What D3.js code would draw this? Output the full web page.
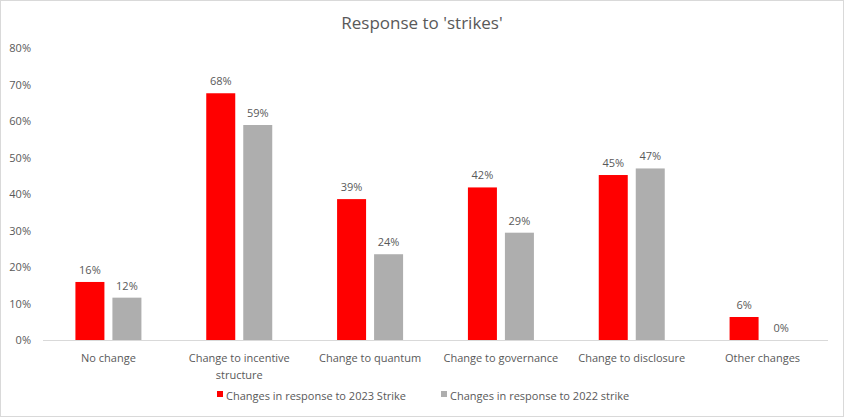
<!DOCTYPE html>
<html><head><meta charset="utf-8">
<script src="https://cdn.jsdelivr.net/npm/d3@7"></script>
<style>body{margin:0;background:#fff;} svg{display:block;}</style>
</head><body>
<script>
const categories = ["No change", "Change to incentive structure", "Change to quantum", "Change to governance", "Change to disclosure", "Other changes"];
const series2023 = [15.9, 67.6, 38.6, 41.8, 45.2, 6.3];
const series2022 = [11.6, 58.9, 23.5, 29.4, 47.0, 0];
const seriesNames = ["Changes in response to 2023 Strike", "Changes in response to 2022 strike"];
const colors = ["#ff0000", "#aeaeae"];
const yTicks = [0, 10, 20, 30, 40, 50, 60, 70, 80];

const W = 844, H = 417;
const font = "'Open Sans', 'Liberation Sans', sans-serif";
const svg = d3.select("body").append("svg").attr("width", W).attr("height", H);
svg.append("rect").attr("x", 0.5).attr("y", 0.5).attr("width", W - 1).attr("height", H - 1)
  .attr("fill", "#fff").attr("stroke", "#d9d9d9");

const m = {l: 43, r: 16, t: 48, b: 77};
const x0 = d3.scaleBand().domain(categories).range([m.l, W - m.r]).paddingInner(0).paddingOuter(0);
const y = d3.scaleLinear().domain([0, 80]).range([H - m.b, m.t]);

svg.append("text").attr("x", W / 2).attr("y", 29).attr("text-anchor", "middle")
  .attr("font-family", font).attr("font-size", 17).attr("fill", "#595959").text("Response to 'strikes'");

const yAxis = d3.axisLeft(y).tickValues(yTicks).tickFormat(d => d + "%").tickSize(0).tickPadding(12);
const ya = svg.append("g").attr("transform", `translate(${m.l},0)`).call(yAxis);
ya.select(".domain").remove();
ya.selectAll("text").attr("font-family", font).attr("font-size", 11).attr("fill", "#595959");

const bw = 29, gap = 8;
const data = categories.map((c, i) => ({c, vals: [series2023[i], series2022[i]]}));
const g = svg.append("g");
data.forEach(d => {
  const cx = x0(d.c) + x0.bandwidth() / 2;
  d.vals.forEach((v, j) => {
    const bx = j === 0 ? cx - gap / 2 - bw : cx + gap / 2;
    g.append("rect").attr("x", bx).attr("y", y(v)).attr("width", bw).attr("height", y(0) - y(v)).attr("fill", colors[j]);
    g.append("text").attr("x", bx + bw / 2).attr("y", y(v) - 8).attr("text-anchor", "middle")
      .attr("font-family", font).attr("font-size", 11).attr("fill", "#595959").text(Math.round(v) + "%");
  });
});

svg.append("line").attr("x1", m.l).attr("x2", W - m.r).attr("y1", y(0) + 0.5).attr("y2", y(0) + 0.5)
  .attr("stroke", "#d9d9d9");

const xAxis = d3.axisBottom(x0).tickSize(0).tickPadding(14);
const xa = svg.append("g").attr("transform", `translate(0,${y(0)})`).call(xAxis);
xa.select(".domain").remove();
xa.selectAll("text").attr("font-family", font).attr("font-size", 11).attr("fill", "#595959")
  .each(function(d) {
    const t = d3.select(this);
    if (d === "Change to incentive structure") {
      t.text(null);
      t.append("tspan").attr("x", 0).attr("dy", "0.71em").text("Change to incentive");
      t.append("tspan").attr("x", 0).attr("dy", "1.55em").text("structure");
    }
  });

const legX = [217, 441];
seriesNames.forEach((n, j) => {
  const lg = svg.append("g").attr("transform", `translate(${legX[j]},396)`);
  lg.append("rect").attr("x", 0).attr("y", -5).attr("width", 6).attr("height", 6).attr("fill", colors[j]);
  lg.append("text").attr("x", 9).attr("y", 0).attr("dy", "0.32em").attr("font-family", font).attr("font-size", 11)
    .attr("fill", "#595959").text(n);
});
</script>
</body></html>
